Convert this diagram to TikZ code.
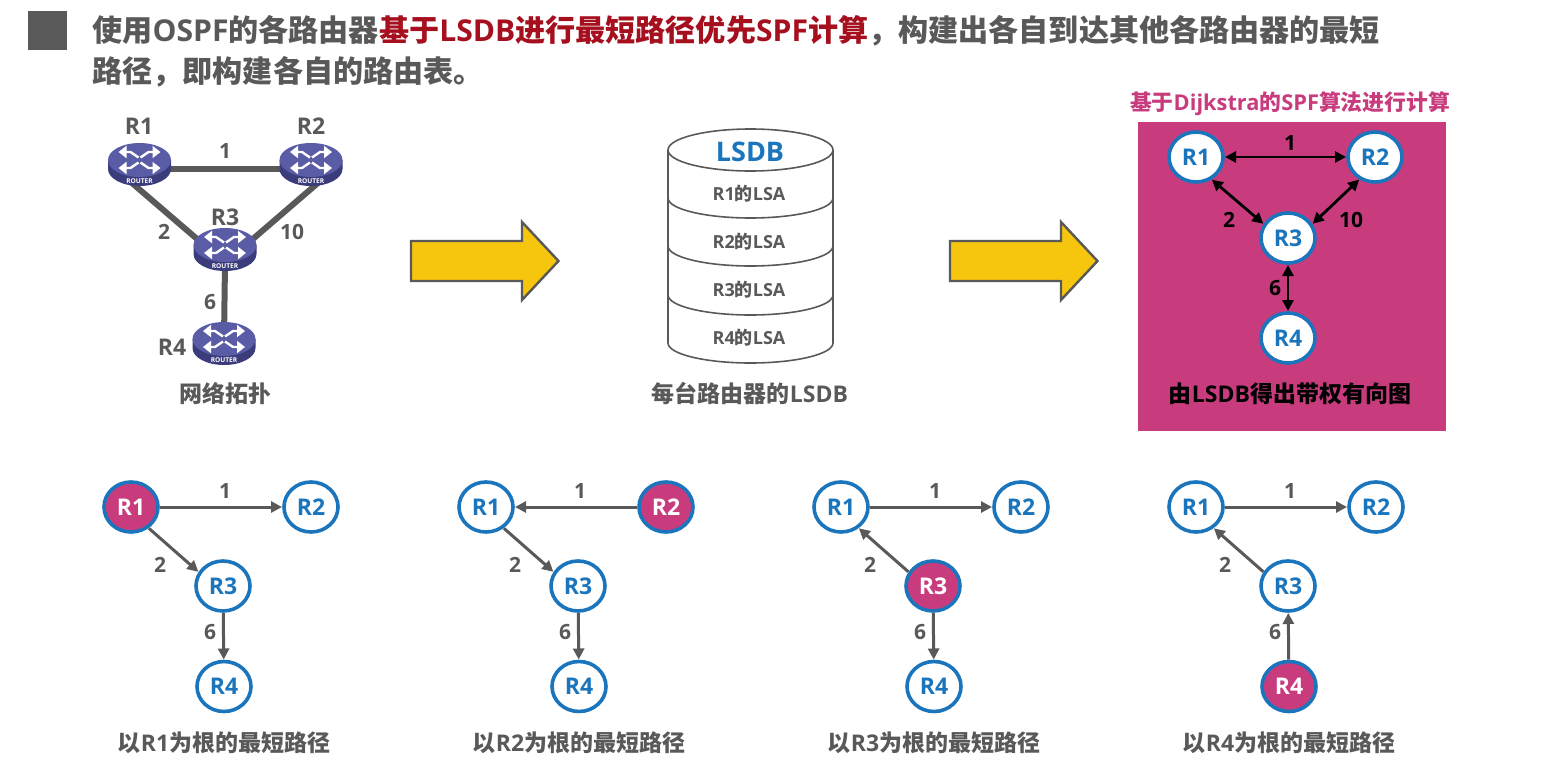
\documentclass[tikz,border=0pt]{standalone}
\usepackage{fontspec}
\usepackage{xcolor}
\usepackage{tikz}
\usetikzlibrary{shapes.geometric, arrows.meta, positioning, calc}
\setmainfont{Noto Sans CJK SC}
\newfontfamily\latfont{Open Sans}
\newcommand{\entxt}[1]{{\latfont #1}}
\definecolor{slategray}{HTML}{595959}
\definecolor{rootpink}{HTML}{C83C7E}
\definecolor{nodeblue}{HTML}{1B75BC}
\definecolor{titlered}{HTML}{A50F1E}
\definecolor{arrowgold}{HTML}{F6C50D}
\definecolor{routertop}{HTML}{5A5CA6}
\definecolor{routerside}{HTML}{3B3C7C}
\tikzset{
  rnode/.style={ellipse, draw=nodeblue, line width=1.8pt, fill=white, minimum width=27pt, minimum height=25pt, inner sep=0pt, outer sep=1pt, text=nodeblue, font=\bfseries\latfont\fontsize{11.5}{13}\selectfont},
  rootnode/.style={rnode, fill=rootpink, text=white},
  weightlabel/.style={text=slategray, inner sep=0pt, font=\bfseries\latfont\fontsize{10.5}{12}\selectfont},
  routername/.style={weightlabel, font=\bfseries\latfont\fontsize{11.5}{13}\selectfont},
  caplabel/.style={text=slategray, inner sep=0pt, font=\bfseries\fontsize{11.5}{14}\selectfont},
  titleline/.style={anchor=west, text=slategray, inner sep=0pt, font=\bfseries\fontsize{15.05}{18}\selectfont},
  lsalabel/.style={text=slategray, inner sep=0pt, font=\bfseries\fontsize{9}{11}\selectfont},
  treearrow/.style={-{Triangle[length=5.5pt,width=5.5pt]}, draw=slategray, line width=1.5pt},
  bothway/.style={{Triangle[length=5.5pt,width=5.5pt]}-{Triangle[length=5.5pt,width=5.5pt]}, draw=black, line width=1.4pt},
  toplink/.style={draw=slategray, line width=3pt},
  pics/routerpic/.style={code={
    \fill[routerside] (-31.5,0) -- (-31.5,9) arc[start angle=180,end angle=0,x radius=31.5,y radius=17] -- (31.5,0) -- cycle;
    \fill[routertop] (0,0) ellipse[x radius=31.5,y radius=17];
    % four arrows of the icon
    \foreach \sx/\sy in {-1/-1,1/-1,-1/1,1/1} {
      \draw[white, line width=1.2pt, -{Triangle[length=4pt,width=6pt]}] (1*\sx,2.5*\sy) -- (9*\sx,8*\sy) -- (21*\sx,8*\sy);
    }
    \node[white, inner sep=0pt, font=\bfseries\latfont\fontsize{3.3}{4}\selectfont] at (0,21) {ROUTER};
  }},
  pics/goldarrow/.style={code={
    \draw[slategray, line width=1.2pt, fill=arrowgold, line join=miter] (1,-20) -- (112,-20) -- (112,-39) -- (148.5,0) -- (112,39) -- (112,20) -- (1,20) -- cycle;
  }}
}
\begin{document}
\begin{tikzpicture}[x=0.5pt,y=-0.5pt]
  \useasboundingbox (0,0) rectangle (1557,760);
  % heading
  \fill[slategray] (28,11) rectangle (67,50);
  \node[titleline] (headone) at (92,31) {使用\entxt{OSPF}的各路由器\textcolor{titlered}{基于\entxt{LSDB}进行最短路径优先\entxt{SPF}计算}，构建出各自到达其他各路由器的最短};
  \node[titleline] (headtwo) at (92,72) {路径，即构建各自的路由表。};

  % network topology
  \coordinate (r1) at (139.5,160);
  \coordinate (r2) at (311,160);
  \coordinate (r3) at (225,245);
  \coordinate (r4) at (224,339);
  \coordinate (r1end) at (118,171);
  \coordinate (r2end) at (333,170);
  \coordinate (r3end) at (225,263);
  \draw[toplink] (r1) ++(0,9) -- ($(r2)+(0,9)$);
  \draw[toplink] (r1end) -- (r3end);
  \draw[toplink] (r2end) -- (r3end);
  \draw[toplink] (r3end) -- (r4);
  \foreach \r in {r1,r2,r3,r4} {
    \pic at (\r) {routerpic};
  }
  \node[routername] (r1name) at (139,126) {R1};
  \node[routername] (r2name) at (311,126) {R2};
  \node[routername] (r3name) at (225,217) {R3};
  \node[routername] (r4name) at (172,347) {R4};
  \node[weightlabel] (w12) at (225,151) {1};
  \node[weightlabel] (w13) at (164,232) {2};
  \node[weightlabel] (w23) at (292,232) {10};
  \node[weightlabel] (w34) at (210,302) {6};
  \node[caplabel] (topocap) at (225,394) {网络拓扑};

  % big arrows
  \foreach \x in {410,949} {
    \pic at (\x,261) {goldarrow};
  }

  % database cylinder
  \draw[slategray, line width=0.8pt, fill=white] (668,150) -- (668,343) arc[start angle=180,end angle=0,x radius=82.5,y radius=20] -- (833,150);
  \draw[slategray, line width=0.8pt] (750.5,150) ellipse[x radius=82.5,y radius=21];
  \foreach \y in {198,246,295} {
    \draw[slategray, line width=0.8pt] (668,\y) arc[start angle=180,end angle=0,x radius=82.5,y radius=20];
  }
  \node[inner sep=0pt, text=nodeblue, font=\bfseries\latfont\fontsize{13.5}{16}\selectfont] (lsdbname) at (750,152) {LSDB};
  \foreach \n/\y in {1/194,2/242,3/290,4/338} {
    \node[lsalabel] (lsa\n) at (749,\y) {\entxt{R\n}的\entxt{LSA}};
  }
  \node[caplabel] (lsdbcap) at (750,394) {每台路由器的\entxt{LSDB}};

  % weighted digraph panel
  \node[inner sep=0pt, text=rootpink, font=\bfseries\fontsize{10.9}{13}\selectfont] (paneltitle) at (1290,104) {基于\entxt{Dijkstra}的\entxt{SPF}算法进行计算};
  \fill[rootpink] (1137.5,122) rectangle (1446,431);
  \node[rnode] (g1) at (1196,157) {R1};
  \node[rnode] (g2) at (1375,157) {R2};
  \node[rnode] (g3) at (1288,238) {R3};
  \node[rnode] (g4) at (1288,338) {R4};
  \draw[bothway] (g1) -- (g2);
  \draw[bothway] (g1.-55) -- (g3.150);
  \draw[bothway] (g2.-125) -- (g3.30);
  \draw[bothway] (g3) -- (g4);
  \node[weightlabel, text=black] (g12) at (1290,143) {1};
  \node[weightlabel, text=black] (g13) at (1229,220) {2};
  \node[weightlabel, text=black] (g23) at (1351,220) {10};
  \node[weightlabel, text=black] (g34) at (1275,288) {6};
  \node[caplabel, text=black] (panelcap) at (1290,394) {由\entxt{LSDB}得出带权有向图};

  % shortest path trees
  \foreach \g/\dx/\sa/\sb/\sc/\sd in {1/0/rootnode/rnode/rnode/rnode, 2/355/rnode/rootnode/rnode/rnode, 3/710/rnode/rnode/rootnode/rnode, 4/1065/rnode/rnode/rnode/rootnode} {
    \node[\sa] (t\g a) at (131+\dx,507) {R1};
    \node[\sb] (t\g b) at (311+\dx,507) {R2};
    \node[\sc] (t\g c) at (223+\dx,586) {R3};
    \node[\sd] (t\g d) at (224+\dx,686.5) {R4};
    \node[weightlabel] (w\g a) at (225+\dx,491) {1};
    \node[weightlabel] (w\g b) at (160+\dx,565) {2};
    \node[weightlabel] (w\g c) at (210+\dx,632) {6};
    \node[caplabel] (cap\g) at (224+\dx,743) {以\entxt{R\g}为根的最短路径};
  }
  % horizontal and vertical edges
  \foreach \g/\pa/\qa/\pc/\qc in {1/a/b/c/d, 2/b/a/c/d, 3/a/b/c/d, 4/a/b/d/c} {
    \draw[treearrow] (t\g\pa) -- (t\g\qa);
    \draw[treearrow] (t\g\pc) -- (t\g\qc);
  }
  % diagonal edges
  \draw[treearrow] (t1a.-50) -- (t1c.150);
  \draw[treearrow] (t2a.-50) -- (t2c.150);
  \draw[treearrow] (t3c.150) -- (t3a.-50);
  \draw[treearrow] (t4c.150) -- (t4a.-50);
\end{tikzpicture}
\end{document}
